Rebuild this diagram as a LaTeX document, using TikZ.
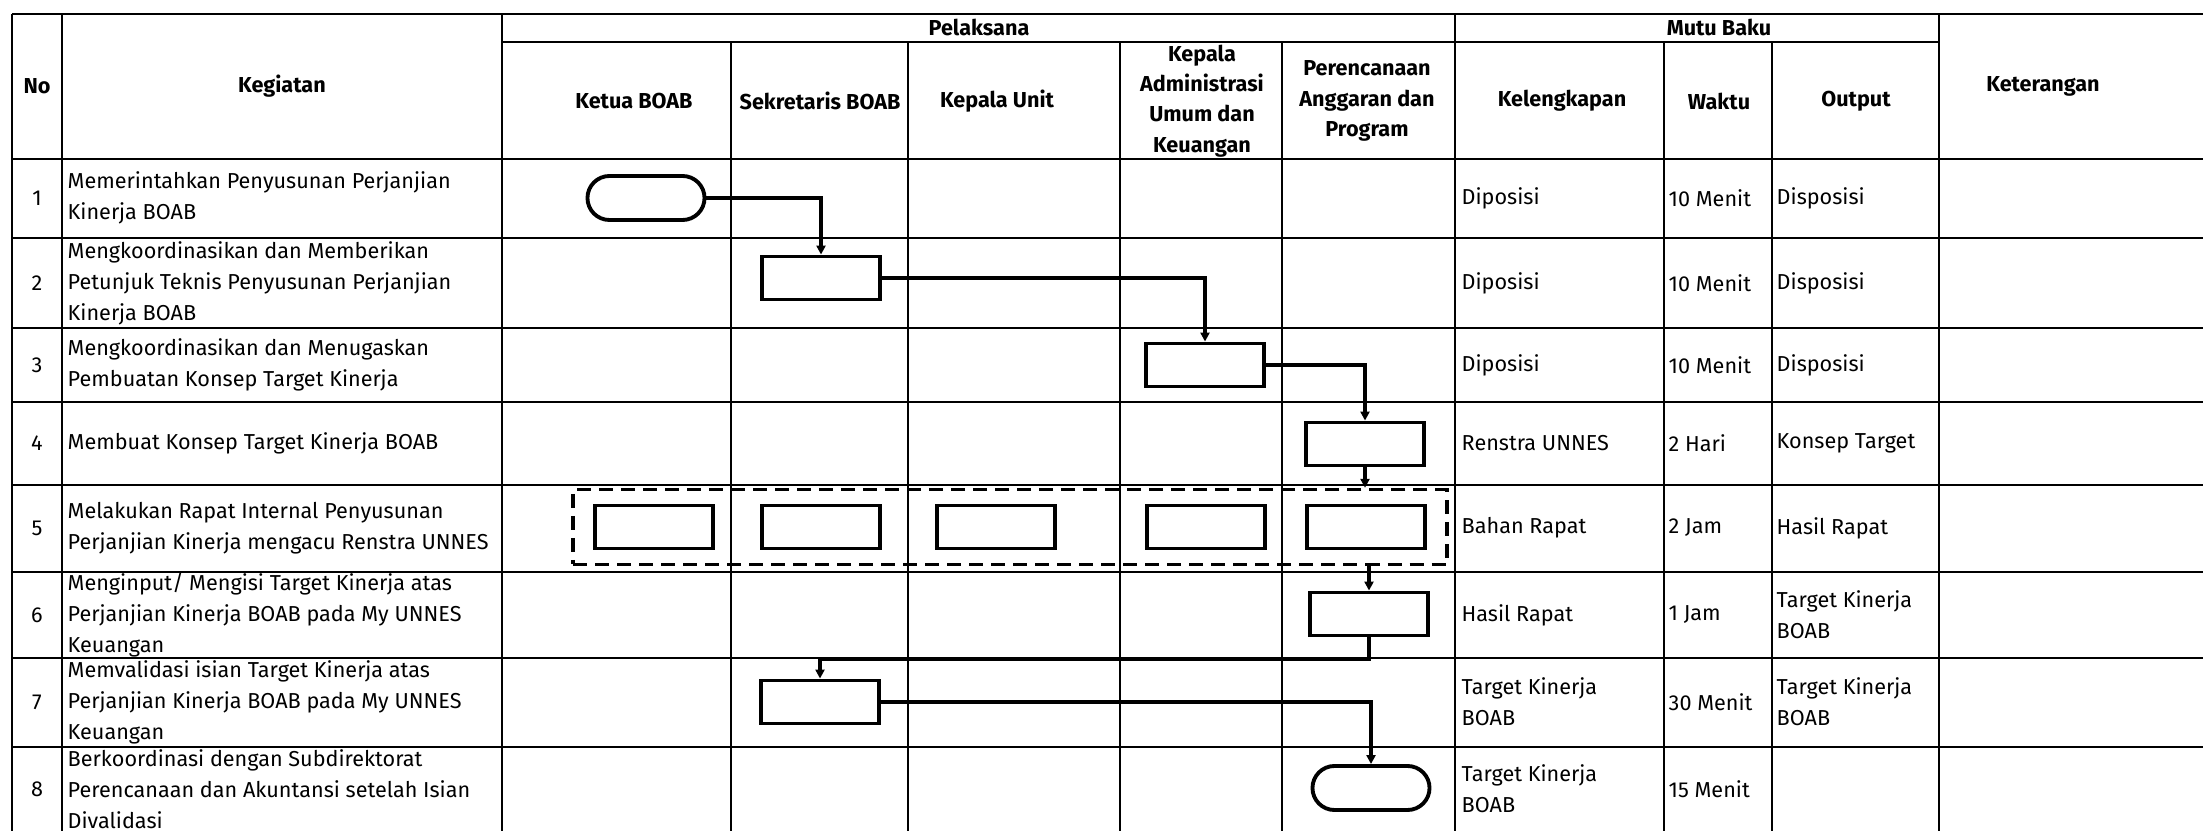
\documentclass[tikz,border=0pt]{standalone}
\usepackage{fontspec}
\setmainfont{Fira Sans}
\usetikzlibrary{arrows.meta,positioning,fit}

\begin{document}
\begin{tikzpicture}[
 x=0.01cm, y=-0.01cm, >={Triangle[length=0.9mm,width=0.9mm]},
 font=\fontsize{6.15}{8.8}\selectfont,
 grid/.style={line width=0.8pt},
 head/.style={font=\fontsize{6.15}{8.6}\selectfont\bfseries, align=center, inner sep=0pt},
 cell/.style={anchor=west, align=left, inner sep=0pt},
 act/.style={draw, line width=1.1pt, minimum width=1.18cm, minimum height=0.43cm, inner sep=0pt},
 term/.style={act, minimum width=1.17cm, minimum height=0.44cm, rounded corners=0.22cm},
 group/.style={draw, line width=1pt, dash pattern=on 1.4mm off 0.8mm, inner xsep=0.2cm, inner ysep=0.14cm},
 flow/.style={->, line width=0.9pt}]
\useasboundingbox (0,0) rectangle (2203,831);
% table grid
\draw[grid] (12,14) -- (2203,14) (502,42) -- (1939,42);
\foreach \y in {159,238,328,402,485,572,658,747} \draw[grid] (12,\y) -- (2203,\y);
\foreach \x in {12,62,502,1455,1939} \draw[grid] (\x,14) -- (\x,831);
\foreach \x in {731,908,1120,1282,1664,1772} \draw[grid] (\x,42) -- (\x,831);
% header
\node[head] (hno) at (37,86) {No};
\node[head] (hkeg) at (282,86) {Kegiatan};
\node[head] (hpel) at (979,27) {Pelaksana};
\node[head] (hmutu) at (1719,27) {Mutu Baku};
\node[head] (hket) at (2043,86) {Keterangan};
\foreach \x/\t [count=\i] in {634/Ketua BOAB, 820/Sekretaris BOAB, 997/Kepala Unit,
 1202/{Kepala\\Administrasi\\Umum dan\\Keuangan}, 1367/{Perencanaan\\Anggaran dan\\Program},
 1562/Kelengkapan, 1719/Waktu, 1856/Output}
 \node[head] (col\i) at (\x,101) {\t};
% rows
\foreach \y/\no/\keg/\kel/\wak/\out in {
 198/1/{Memerintahkan Penyusunan Perjanjian\\Kinerja BOAB}/Diposisi/10 Menit/Disposisi,
 283/2/{Mengkoordinasikan dan Memberikan\\Petunjuk Teknis Penyusunan Perjanjian\\Kinerja BOAB}/Diposisi/10 Menit/Disposisi,
 365/3/{Mengkoordinasikan dan Menugaskan\\Pembuatan Konsep Target Kinerja}/Diposisi/10 Menit/Disposisi,
 443/4/{Membuat Konsep Target Kinerja BOAB}/Renstra UNNES/2 Hari/Konsep Target,
 528/5/{Melakukan Rapat Internal Penyusunan\\Perjanjian Kinerja mengacu Renstra UNNES}/Bahan Rapat/2 Jam/Hasil Rapat,
 615/6/{Menginput/ Mengisi Target Kinerja atas\\Perjanjian Kinerja BOAB pada My UNNES\\Keuangan}/Hasil Rapat/1 Jam/{Target Kinerja\\BOAB},
 702/7/{Memvalidasi isian Target Kinerja atas\\Perjanjian Kinerja BOAB pada My UNNES\\Keuangan}/{Target Kinerja\\BOAB}/30 Menit/{Target Kinerja\\BOAB},
 789/8/{Berkoordinasi dengan Subdirektorat\\Perencanaan dan Akuntansi setelah Isian\\Divalidasi}/{Target Kinerja\\BOAB}/15 Menit/{}}
{
 \node (no\no) at (37,\y) {\no};
 \node[cell] (keg\no) at (67,\y) {\keg};
 \node[cell] (kel\no) at (1461,\y) {\kel};
 \node[cell] (wak\no) at (1668,\y) {\wak};
 \node[cell] (out\no) at (1776,\y) {\out};
}
% flow shapes
\node[term] (start) at (646,198) {};
\node[act] (koord) at (821,278) {};
\node[act] (tugas) at (1205,365) {};
\node[act] (konsep) at (1365,444) {};
\node[act] (rapatA) at (654,527) {};
\node[act] (rapatB) at (821,527) {};
\node[act] (rapatC) at (996,527) {};
\node[act] (rapatD) at (1206,527) {};
\node[act] (rapatE) at (1366,527) {};
\node[group, fit=(rapatA)(rapatE)] (rapat) {};
\node[act] (input) at (1369,614) {};
\node[act] (valid) at (820,702) {};
\node[term] (finish) at (1371,788) {};
% connectors
\draw[flow] (start) -| (koord);
\draw[flow] (koord) -| (tugas);
\draw[flow] (tugas) -| (konsep);
\draw[flow] (konsep.south) -- (konsep.south |- rapat.north);
\draw[flow] (rapat.south -| input.north) -- (input.north);
\draw[flow] (input.south) -- ++(0,22) -| (valid.north);
\draw[flow] (valid) -| (finish);
\end{tikzpicture}
\end{document}
